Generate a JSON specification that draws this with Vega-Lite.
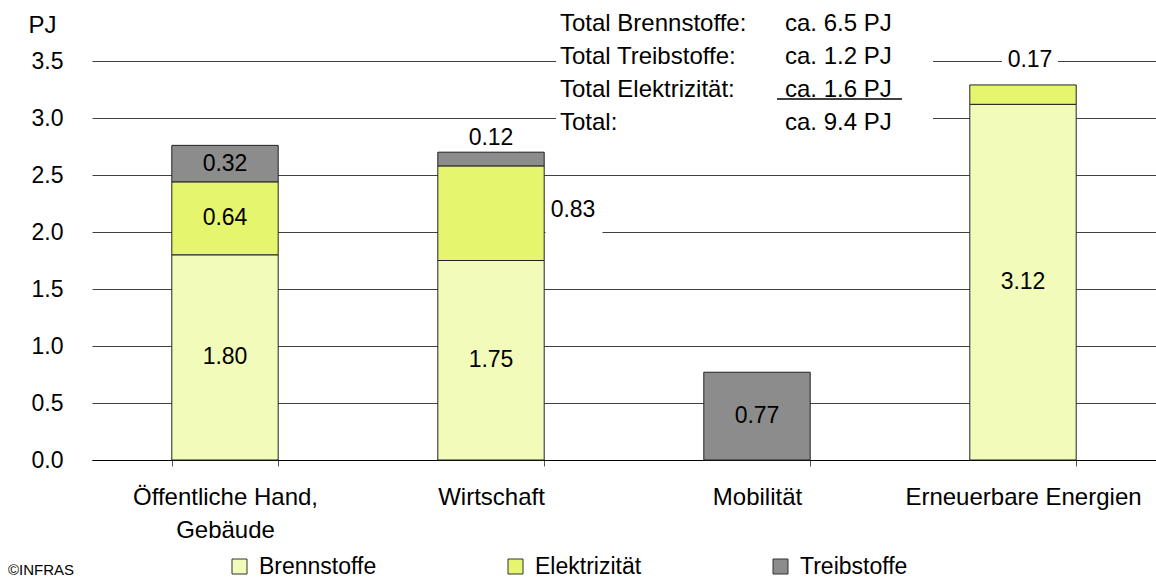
{
  "$schema": "https://vega.github.io/schema/vega-lite/v6.json",
  "width": 1064,
  "height": 456,
  "autosize": {"type": "none"},
  "padding": {"left": 92, "top": 4, "right": 0, "bottom": 120},
  "background": "white",
  "config": {
    "font": "Liberation Sans",
    "view": {"stroke": null},
    "axisX": {
      "domainColor": "#000000", "domainWidth": 1,
      "tickBand": "extent", "ticks": true, "tickSize": 6, "tickColor": "#555555",
      "labelFontSize": 24, "labelColor": "#000000", "labelPadding": 19, "labelLimit": 400,
      "labelLineHeight": 33, "labelAngle": 0, "grid": false
    },
    "axisY": {
      "domain": false, "ticks": false, "tickSize": 0,
      "grid": true, "gridColor": "#404040", "gridWidth": 1,
      "labelFontSize": 23, "labelColor": "#000000", "labelPadding": 29,
      "titleAngle": 0, "titleX": -64, "titleY": 21, "titleAlign": "left",
      "titleBaseline": "middle", "titleFontSize": 24, "titleFontWeight": "normal", "titleColor": "#000000"
    }
  },
  "title": {
    "text": "©INFRAS", "orient": "bottom", "anchor": "start", "frame": "group",
    "dx": -84, "offset": -16, "fontSize": 15, "fontWeight": "normal", "color": "#000000"
  },
  "datasets": {
    "energy": [
      {"cat": "Öffentliche Hand, Gebäude", "type": "Brennstoffe", "value": 1.80},
      {"cat": "Öffentliche Hand, Gebäude", "type": "Elektrizität", "value": 0.64},
      {"cat": "Öffentliche Hand, Gebäude", "type": "Treibstoffe", "value": 0.32},
      {"cat": "Wirtschaft", "type": "Brennstoffe", "value": 1.75},
      {"cat": "Wirtschaft", "type": "Elektrizität", "value": 0.83},
      {"cat": "Wirtschaft", "type": "Treibstoffe", "value": 0.12},
      {"cat": "Mobilität", "type": "Treibstoffe", "value": 0.77},
      {"cat": "Erneuerbare Energien", "type": "Brennstoffe", "value": 3.12},
      {"cat": "Erneuerbare Energien", "type": "Elektrizität", "value": 0.17}
    ],
    "boxes": [
      {"cat": "Mobilität", "lo": 2.92, "hi": 3.96, "box": "totals"},
      {"cat": "Wirtschaft", "lo": 1.97, "hi": 2.36, "box": "l083"},
      {"cat": "Erneuerbare Energien", "lo": 3.36, "hi": 3.64, "box": "l017"}
    ],
    "totals": [
      {"cat": "Mobilität", "y": 3.763, "left": "Total Brennstoffe:", "right": "ca. 6.5 PJ"},
      {"cat": "Mobilität", "y": 3.474, "left": "Total Treibstoffe:", "right": "ca. 1.2 PJ"},
      {"cat": "Mobilität", "y": 3.184, "left": "Total Elektrizität:", "right": "ca. 1.6 PJ"},
      {"cat": "Mobilität", "y": 2.895, "left": "Total:", "right": "ca. 9.4 PJ"}
    ],
    "underline": [
      {"cat": "Mobilität", "u": 3.167}
    ]
  },
  "encoding": {
    "x": {
      "field": "cat", "type": "nominal",
      "sort": ["Öffentliche Hand, Gebäude", "Wirtschaft", "Mobilität", "Erneuerbare Energien"],
      "scale": {"paddingInner": 0.6, "paddingOuter": 0.3},
      "title": null,
      "axis": {"labelExpr": "datum.label == 'Öffentliche Hand, Gebäude' ? ['Öffentliche Hand,', 'Gebäude'] : datum.label"}
    }
  },
  "layer": [
    {
      "data": {"name": "boxes"},
      "layer": [
        {
          "transform": [{"filter": "datum.box == 'totals'"}],
          "mark": {"type": "bar", "fill": "white", "width": 377, "xOffset": -12.5},
          "encoding": {
            "y": {"field": "lo", "type": "quantitative", "title": "PJ", "scale": {"domain": [0, 4]},
                  "axis": {"values": [0, 0.5, 1, 1.5, 2, 2.5, 3, 3.5], "format": ".1f"}},
            "y2": {"field": "hi"}
          }
        },
        {
          "transform": [{"filter": "datum.box == 'l083'"}],
          "mark": {"type": "bar", "fill": "white", "width": 57, "xOffset": 83},
          "encoding": {
            "y": {"field": "lo", "type": "quantitative", "title": "PJ"},
            "y2": {"field": "hi"}
          }
        },
        {
          "transform": [{"filter": "datum.box == 'l017'"}],
          "mark": {"type": "bar", "fill": "white", "width": 56, "xOffset": 7},
          "encoding": {
            "y": {"field": "lo", "type": "quantitative", "title": "PJ"},
            "y2": {"field": "hi"}
          }
        }
      ]
    },
    {
      "data": {"name": "energy"},
      "transform": [
        {"stack": "value", "groupby": ["cat"], "sort": [{"field": "type", "order": "ascending"}], "as": ["v0", "v1"]},
        {"calculate": "(datum.v0 + datum.v1) / 2", "as": "mid"}
      ],
      "layer": [
        {
          "mark": {"type": "bar", "stroke": "#222222", "strokeWidth": 1},
          "encoding": {
            "y": {"field": "v1", "type": "quantitative", "title": "PJ"},
            "y2": {"field": "v0"},
            "color": {
              "field": "type", "type": "nominal",
              "scale": {"domain": ["Brennstoffe", "Elektrizität", "Treibstoffe"], "range": ["#F2FBBA", "#E6F56E", "#8C8C8C"]},
              "legend": {
                "orient": "none", "legendX": 136, "legendY": 551, "direction": "horizontal",
                "title": null, "symbolType": "square", "symbolSize": 225,
                "symbolStrokeColor": "#333333", "symbolStrokeWidth": 1, "symbolOpacity": 1,
                "labelFontSize": 23, "labelColor": "#000000", "labelOffset": 8,
                "columnPadding": 127, "gridAlign": "none"
              }
            }
          }
        },
        {
          "transform": [{"filter": "!(datum.cat == 'Wirtschaft' && datum.type != 'Brennstoffe') && !(datum.cat == 'Erneuerbare Energien' && datum.type == 'Elektrizität')"}],
          "mark": {"type": "text", "fontSize": 23, "color": "#000000", "baseline": "middle", "align": "center"},
          "encoding": {
            "y": {"field": "mid", "type": "quantitative", "title": "PJ"},
            "text": {"field": "value", "type": "quantitative", "format": ".2f"}
          }
        },
        {
          "transform": [{"filter": "datum.cat == 'Wirtschaft' && datum.type == 'Treibstoffe'"}],
          "mark": {"type": "text", "fontSize": 23, "color": "#000000", "baseline": "alphabetic", "align": "center", "dy": -7},
          "encoding": {
            "y": {"field": "v1", "type": "quantitative", "title": "PJ"},
            "text": {"field": "value", "type": "quantitative", "format": ".2f"}
          }
        },
        {
          "transform": [{"filter": "datum.cat == 'Wirtschaft' && datum.type == 'Elektrizität'"}],
          "mark": {"type": "text", "fontSize": 23, "color": "#000000", "baseline": "middle", "align": "center", "dx": 82, "dy": -3},
          "encoding": {
            "y": {"field": "mid", "type": "quantitative", "title": "PJ"},
            "text": {"field": "value", "type": "quantitative", "format": ".2f"}
          }
        },
        {
          "transform": [{"filter": "datum.cat == 'Erneuerbare Energien' && datum.type == 'Elektrizität'"}],
          "mark": {"type": "text", "fontSize": 23, "color": "#000000", "baseline": "middle", "align": "center", "dx": 7, "dy": -25},
          "encoding": {
            "y": {"field": "v1", "type": "quantitative", "title": "PJ"},
            "text": {"field": "value", "type": "quantitative", "format": ".2f"}
          }
        }
      ]
    },
    {
      "data": {"name": "totals"},
      "layer": [
        {
          "mark": {"type": "text", "fontSize": 24, "color": "#000000", "baseline": "alphabetic", "align": "left", "dx": -197},
          "encoding": {
            "y": {"field": "y", "type": "quantitative", "title": "PJ"},
            "text": {"field": "left"}
          }
        },
        {
          "mark": {"type": "text", "fontSize": 24, "color": "#000000", "baseline": "alphabetic", "align": "left", "dx": 28},
          "encoding": {
            "y": {"field": "y", "type": "quantitative", "title": "PJ"},
            "text": {"field": "right"}
          }
        }
      ]
    },
    {
      "data": {"name": "underline"},
      "mark": {"type": "tick", "color": "#000000", "size": 125, "thickness": 1.5, "xOffset": 82.5, "opacity": 1},
      "encoding": {
        "y": {"field": "u", "type": "quantitative", "title": "PJ"}
      }
    }
  ]
}
